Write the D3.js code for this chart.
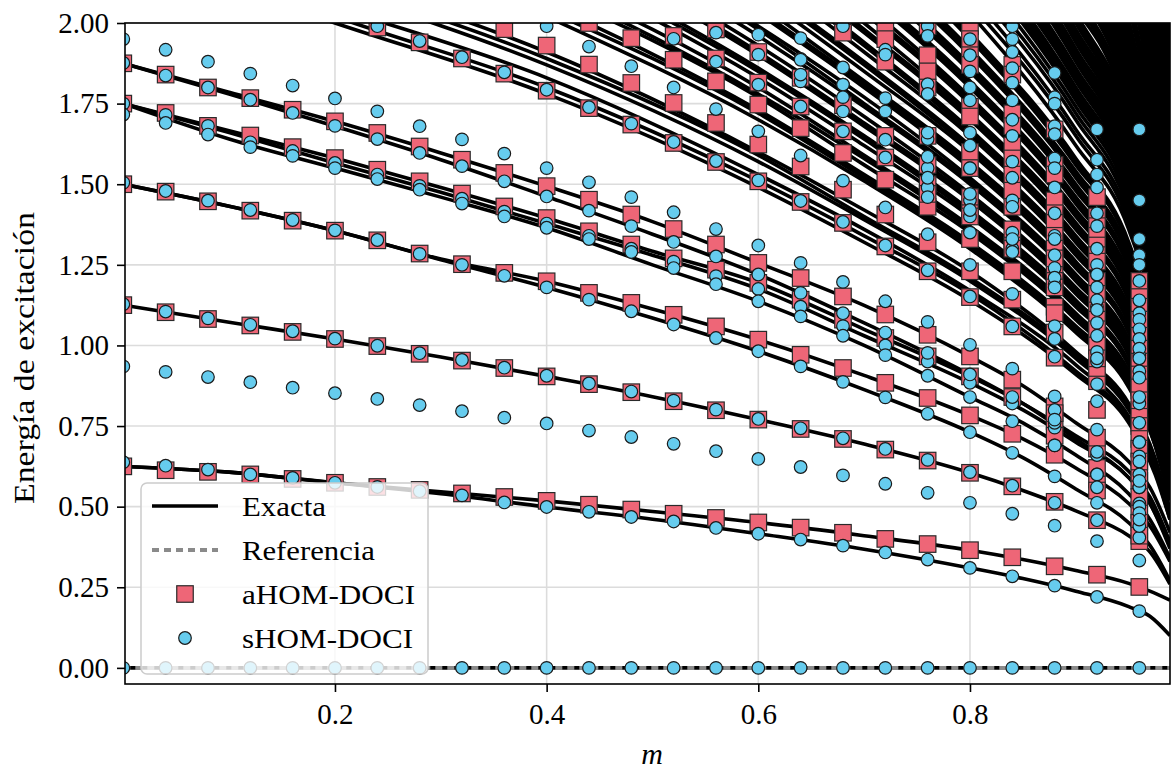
<!DOCTYPE html>
<html>
<head>
<meta charset="utf-8">
<script src="https://cdn.jsdelivr.net/npm/d3@7"></script>
<style>
body { margin: 0; background: #fff; }
svg text { font-family: "Liberation Serif", "DejaVu Serif", serif; fill: #000; }
</style>
</head>
<body>
<script>
// ---- exact curves, lower levels (m grid shared)
var mGrid = [0, 0.1, 0.2, 0.3, 0.4, 0.5, 0.6, 0.7, 0.8, 0.85, 0.9, 0.95, 0.97, 0.989];
var exactZero = [0, 0, 0, 0, 0, 0, 0, 0, 0, 0, 0, 0, 0, 0];
var exactA1 = [0.625, 0.607, 0.574, 0.546, 0.518, 0.485, 0.451, 0.41, 0.365, 0.336, 0.302, 0.262, 0.238, 0.21];
var exactA2 = [0.625, 0.607, 0.574, 0.54, 0.499, 0.461, 0.416, 0.368, 0.31, 0.277, 0.238, 0.19, 0.16, 0.1];
var exactB = [1.125, 1.072, 1.02, 0.964, 0.904, 0.841, 0.77, 0.694, 0.605, 0.55, 0.487, 0.41, 0.36, 0.26];
var exactC1 = [1.5, 1.432, 1.356, 1.268, 1.199, 1.113, 1.018, 0.907, 0.783, 0.71, 0.62, 0.51, 0.44, 0.33];
var exactC2 = [1.5, 1.432, 1.356, 1.266, 1.18, 1.085, 0.982, 0.863, 0.731, 0.652, 0.555, 0.45, 0.38, 0.27];
var exactL4a = [1.75, 1.666, 1.581, 1.49, 1.395, 1.292, 1.194, 1.05, 0.904, 0.82, 0.72, 0.61, 0.53, 0.39];
var exactL4b = [1.75, 1.66, 1.566, 1.475, 1.378, 1.28, 1.175, 1.03, 0.884, 0.8, 0.7, 0.59, 0.51, 0.37];
var exactL4c = [1.75, 1.64, 1.55, 1.46, 1.365, 1.25, 1.137, 1.0, 0.84, 0.76, 0.66, 0.54, 0.46, 0.34];
var exactL5a = [1.875, 1.785, 1.695, 1.597, 1.494, 1.384, 1.256, 1.124, 0.966, 0.875, 0.76, 0.64, 0.56, 0.42];
var exactL5b = [1.875, 1.78, 1.68, 1.576, 1.462, 1.345, 1.22, 1.07, 0.91, 0.82, 0.71, 0.59, 0.51, 0.38];

// ---- exact curves entering from the top (bundles of three)
var mUpper = [0.1, 0.2, 0.4, 0.6, 0.7, 0.8, 0.9, 0.95, 0.975, 0.989];
var upperCurves = [
    [2.11, 2.00, 1.78, 1.49, 1.32, 1.14, 0.91, 0.76, 0.60, 0.46],
    [2.14, 2.02, 1.80, 1.51, 1.34, 1.16, 0.92, 0.77, 0.61, 0.46],
    [2.16, 2.05, 1.83, 1.53, 1.36, 1.17, 0.94, 0.78, 0.62, 0.47],
    [null, 2.10, 1.87, 1.57, 1.39, 1.20, 0.96, 0.80, 0.64, 0.48],
    [null, 2.12, 1.89, 1.59, 1.40, 1.21, 0.97, 0.81, 0.64, 0.48],
    [null, 2.14, 1.91, 1.60, 1.42, 1.23, 0.98, 0.82, 0.65, 0.49],
    [null, null, 2.02, 1.70, 1.51, 1.30, 1.04, 0.87, 0.69, 0.52],
    [null, null, 2.04, 1.72, 1.52, 1.31, 1.05, 0.88, 0.69, 0.52],
    [null, null, 2.06, 1.73, 1.53, 1.32, 1.06, 0.89, 0.70, 0.53],
    [null, null, 2.10, 1.77, 1.56, 1.35, 1.08, 0.90, 0.71, 0.54],
    [null, null, 2.12, 1.78, 1.58, 1.36, 1.09, 0.91, 0.72, 0.54],
    [null, null, 2.14, 1.80, 1.59, 1.37, 1.10, 0.92, 0.73, 0.55],
    [null, null, 2.18, 1.83, 1.62, 1.40, 1.12, 0.94, 0.74, 0.56],
    [null, null, 2.20, 1.85, 1.64, 1.41, 1.13, 0.94, 0.75, 0.56],
    [null, null, 2.22, 1.86, 1.65, 1.42, 1.14, 0.95, 0.75, 0.57],
    [null, null, 2.26, 1.90, 1.68, 1.45, 1.16, 0.97, 0.77, 0.58],
    [null, null, 2.28, 1.91, 1.69, 1.46, 1.17, 0.98, 0.77, 0.58],
    [null, null, 2.30, 1.93, 1.71, 1.47, 1.18, 0.99, 0.78, 0.59],
    [null, null, 2.34, 1.96, 1.74, 1.50, 1.20, 1.00, 0.79, 0.60],
    [null, null, 2.36, 1.98, 1.75, 1.51, 1.21, 1.01, 0.80, 0.60],
    [null, null, 2.37, 1.99, 1.77, 1.52, 1.22, 1.02, 0.81, 0.61],
    [null, null, null, 2.03, 1.80, 1.55, 1.24, 1.04, 0.82, 0.62],
    [null, null, null, 2.04, 1.81, 1.56, 1.25, 1.05, 0.83, 0.62],
    [null, null, null, 2.06, 1.82, 1.57, 1.26, 1.05, 0.83, 0.63],
    [null, null, null, 2.09, 1.85, 1.60, 1.28, 1.07, 0.85, 0.64],
    [null, null, null, 2.11, 1.87, 1.61, 1.29, 1.08, 0.85, 0.64],
    [null, null, null, 2.12, 1.88, 1.62, 1.30, 1.09, 0.86, 0.65],
    [null, null, null, 2.16, 1.91, 1.65, 1.32, 1.10, 0.87, 0.66],
    [null, null, null, 2.17, 1.93, 1.66, 1.33, 1.11, 0.88, 0.66],
    [null, null, null, 2.19, 1.94, 1.67, 1.34, 1.12, 0.89, 0.67],
    [null, null, null, 2.22, 1.97, 1.70, 1.36, 1.14, 0.90, 0.68],
    [null, null, null, 2.24, 1.98, 1.71, 1.37, 1.15, 0.91, 0.68],
    [null, null, null, 2.26, 2.00, 1.72, 1.38, 1.15, 0.91, 0.69],
    [null, null, null, null, 2.03, 1.75, 1.40, 1.17, 0.93, 0.70],
    [null, null, null, null, 2.04, 1.76, 1.41, 1.18, 0.93, 0.70],
    [null, null, null, null, 2.06, 1.77, 1.42, 1.19, 0.94, 0.71],
    [null, null, null, null, 2.09, 1.80, 1.44, 1.20, 0.95, 0.72],
    [null, null, null, null, 2.10, 1.81, 1.45, 1.21, 0.96, 0.72],
    [null, null, null, null, 2.11, 1.82, 1.46, 1.22, 0.97, 0.73],
    [null, null, null, null, 2.14, 1.85, 1.48, 1.24, 0.98, 0.74],
    [null, null, null, null, 2.16, 1.86, 1.49, 1.25, 0.99, 0.74],
    [null, null, null, null, 2.17, 1.87, 1.50, 1.25, 0.99, 0.75],
    [null, null, null, null, 2.20, 1.90, 1.52, 1.27, 1.01, 0.76],
    [null, null, null, null, 2.22, 1.91, 1.53, 1.28, 1.01, 0.76],
    [null, null, null, null, 2.23, 1.92, 1.54, 1.29, 1.02, 0.77],
    [null, null, null, null, 2.26, 1.95, 1.56, 1.31, 1.03, 0.78],
    [null, null, null, null, 2.27, 1.96, 1.57, 1.31, 1.04, 0.78],
    [null, null, null, null, 2.29, 1.97, 1.58, 1.32, 1.05, 0.79]
];

// ---- the dense bundle at the top right
var mDense = [0.8, 0.9, 0.95, 0.975, 0.989];
var denseCurves = [
    [2.03, 1.62, 1.36, 1.08, 0.81], [2.06, 1.65, 1.38, 1.09, 0.82],
    [2.09, 1.67, 1.40, 1.11, 0.84], [2.12, 1.70, 1.42, 1.12, 0.85],
    [2.15, 1.72, 1.44, 1.14, 0.86], [2.18, 1.74, 1.46, 1.16, 0.87],
    [2.20, 1.76, 1.47, 1.16, 0.88],
    [2.21, 1.77, 1.48, 1.17, 0.88], [2.23, 1.78, 1.49, 1.18, 0.89],
    [2.24, 1.79, 1.50, 1.19, 0.90], [2.26, 1.80, 1.51, 1.20, 0.90],
    [2.27, 1.82, 1.52, 1.20, 0.91], [2.29, 1.83, 1.53, 1.21, 0.91],
    [2.30, 1.84, 1.54, 1.22, 0.92], [2.32, 1.85, 1.55, 1.23, 0.93],
    [2.33, 1.86, 1.56, 1.23, 0.93], [2.35, 1.88, 1.57, 1.24, 0.94],
    [2.36, 1.89, 1.58, 1.25, 0.94], [2.38, 1.90, 1.59, 1.26, 0.95],
    [2.39, 1.91, 1.60, 1.27, 0.96], [2.41, 1.92, 1.61, 1.27, 0.96],
    [2.42, 1.94, 1.62, 1.28, 0.97], [2.44, 1.95, 1.63, 1.29, 0.97],
    [2.45, 1.96, 1.64, 1.30, 0.98], [2.47, 1.97, 1.65, 1.31, 0.99],
    [2.48, 1.98, 1.66, 1.31, 0.99], [2.50, 2.00, 1.67, 1.32, 1.00],
    [2.51, 2.01, 1.68, 1.33, 1.00], [2.53, 2.02, 1.69, 1.34, 1.01],
    [2.54, 2.03, 1.70, 1.35, 1.02], [null, 2.04, 1.71, 1.35, 1.02],
    [null, 2.06, 1.72, 1.36, 1.03], [null, 2.07, 1.73, 1.37, 1.03],
    [null, 2.08, 1.74, 1.38, 1.04], [null, 2.10, 1.76, 1.39, 1.05],
    [null, 2.11, 1.77, 1.40, 1.06], [null, 2.13, 1.78, 1.41, 1.06],
    [null, 2.14, 1.80, 1.42, 1.07], [null, 2.16, 1.81, 1.43, 1.08],
    [null, 2.18, 1.82, 1.44, 1.09], [null, 2.19, 1.84, 1.45, 1.10],
    [null, 2.21, 1.85, 1.46, 1.10], [null, 2.22, 1.86, 1.47, 1.11],
    [null, 2.24, 1.88, 1.48, 1.12], [null, 2.26, 1.89, 1.49, 1.13],
    [null, 2.27, 1.90, 1.51, 1.14], [null, 2.29, 1.92, 1.52, 1.14],
    [null, 2.30, 1.93, 1.53, 1.15], [null, 2.32, 1.94, 1.54, 1.16],
    [null, 2.34, 1.96, 1.55, 1.17], [null, 2.35, 1.97, 1.56, 1.18],
    [null, 2.37, 1.98, 1.57, 1.18], [null, 2.38, 2.00, 1.58, 1.19],
    [null, 2.40, 2.01, 1.59, 1.20], [null, null, 2.05, 1.62, 1.22],
    [null, null, 2.09, 1.65, 1.25], [null, null, 2.13, 1.69, 1.27],
    [null, null, 2.17, 1.72, 1.30], [null, null, 2.21, 1.75, 1.32],
    [null, null, 2.25, 1.78, 1.34], [null, null, 2.29, 1.81, 1.37],
    [null, null, 2.33, 1.84, 1.39], [null, null, 2.37, 1.88, 1.42],
    [null, null, 2.41, 1.91, 1.44], [null, null, 2.45, 1.94, 1.46],
    [null, null, 2.49, 1.97, 1.49], [null, null, 2.53, 2.00, 1.51],
    [null, null, null, 2.04, 1.54], [null, null, null, 2.07, 1.56],
    [null, null, null, 2.10, 1.58], [null, null, null, 2.13, 1.61],
    [null, null, null, 2.16, 1.63], [null, null, null, 2.19, 1.66],
    [null, null, null, 2.23, 1.68], [null, null, null, 2.26, 1.70],
    [null, null, null, 2.29, 1.73], [null, null, null, 2.32, 1.75],
    [null, null, null, 2.35, 1.78], [null, null, null, 2.39, 1.80],
    [null, null, null, 2.42, 1.82], [null, null, null, 2.45, 1.85],
    [null, null, null, 2.48, 1.87], [null, null, null, 2.51, 1.90],
    [null, null, null, 2.54, 1.92], [null, null, null, 2.58, 1.94],
    [null, null, null, 2.61, 1.97], [null, null, null, 2.64, 1.99]
];

// ---- HOM-DOCI points, sampled every 0.04 in m
var mMarks = [0, 0.04, 0.08, 0.12, 0.16, 0.2, 0.24, 0.28, 0.32, 0.36, 0.4, 0.44, 0.48, 0.52, 0.56, 0.6, 0.64, 0.68, 0.72, 0.76, 0.8, 0.84, 0.88, 0.92, 0.96];

var aA1 = [0.625, 0.613, 0.608, 0.6, 0.586, 0.574, 0.561, 0.552, 0.541, 0.53, 0.518, 0.506, 0.491, 0.478, 0.465, 0.451, 0.435, 0.419, 0.40, 0.384, 0.365, 0.343, 0.315, 0.289, 0.251];
var aB = [1.125, 1.103, 1.082, 1.062, 1.042, 1.02, 0.998, 0.974, 0.953, 0.93, 0.904, 0.88, 0.855, 0.827, 0.799, 0.77, 0.741, 0.71, 0.677, 0.643, 0.605, 0.563, 0.515, 0.458, 0.393];
var aC1 = [1.5, 1.477, 1.447, 1.418, 1.387, 1.356, 1.326, 1.285, 1.252, 1.225, 1.199, 1.163, 1.132, 1.095, 1.059, 1.018, 0.971, 0.93, 0.884, 0.837, 0.783, 0.726, 0.661, 0.584, 0.49];
var aL4 = [1.75, 1.721, 1.681, 1.651, 1.615, 1.581, 1.545, 1.509, 1.471, 1.431, 1.395, 1.354, 1.313, 1.27, 1.235, 1.194, 1.142, 1.08, 1.023, 0.966, 0.904, 0.84, 0.765, 0.68, 0.58];
var aL5 = [1.875, 1.84, 1.80, 1.767, 1.731, 1.695, 1.659, 1.617, 1.576, 1.535, 1.494, 1.452, 1.406, 1.361, 1.313, 1.256, 1.209, 1.152, 1.096, 1.033, 0.966, 0.894, 0.811, 0.714, 0.605];
var aD1 = [null, null, null, null, null, null, 1.986, 1.94, 1.89, 1.843, 1.79, 1.736, 1.685, 1.628, 1.569, 1.509, 1.445, 1.38, 1.307, 1.23, 1.15, 1.059, 0.962, 0.889, 0.76];
var aE1 = [null, null, null, null, null, null, null, null, null, 1.981, 1.93, 1.871, 1.814, 1.752, 1.69, 1.623, 1.555, 1.483, 1.406, 1.32, 1.23, 1.142, 1.04, 0.93, 0.8];
var aE2 = [null, null, null, null, null, null, null, null, null, null, null, 2.0, 1.953, 1.886, 1.819, 1.747, 1.674, 1.597, 1.514, 1.43, 1.33, 1.23, 1.12, 1.0, 0.86];
var aF1 = [null, null, null, null, null, null, null, null, null, null, null, null, null, null, 1.98, 1.91, 1.83, 1.745, 1.65, 1.56, 1.46, 1.36, 1.25, 1.13, 0.98];
var aF2 = [null, null, null, null, null, null, null, null, null, null, null, null, null, 1.96, 1.89, 1.815, 1.741, 1.664, 1.583, 1.5, 1.41, 1.31, 1.2, 1.08, 0.93];

var sZero = [0, 0, 0, 0, 0, 0, 0, 0, 0, 0, 0, 0, 0, 0, 0, 0, 0, 0, 0, 0, 0, 0, 0, 0, 0];
var sA2 = [0.638, 0.627, 0.615, 0.6, 0.589, 0.574, 0.561, 0.548, 0.535, 0.513, 0.499, 0.484, 0.468, 0.454, 0.434, 0.416, 0.398, 0.379, 0.358, 0.336, 0.31, 0.284, 0.255, 0.22, 0.176];
var sB = [1.128, 1.105, 1.084, 1.064, 1.044, 1.021, 0.999, 0.976, 0.955, 0.931, 0.906, 0.882, 0.857, 0.829, 0.801, 0.772, 0.743, 0.712, 0.679, 0.645, 0.607, 0.565, 0.512, 0.458, 0.404];
var sX1 = [0.935, 0.918, 0.902, 0.886, 0.869, 0.852, 0.834, 0.815, 0.796, 0.776, 0.758, 0.736, 0.716, 0.695, 0.672, 0.648, 0.623, 0.597, 0.571, 0.543, 0.512, 0.478, 0.441, 0.393, 0.333];
var sC2 = [1.505, 1.479, 1.449, 1.42, 1.389, 1.357, 1.327, 1.284, 1.25, 1.216, 1.18, 1.142, 1.106, 1.065, 1.023, 0.982, 0.935, 0.887, 0.839, 0.788, 0.731, 0.667, 0.594, 0.512, 0.44];
var sL4a = [1.75, 1.715, 1.681, 1.63, 1.603, 1.566, 1.53, 1.495, 1.455, 1.415, 1.378, 1.34, 1.30, 1.26, 1.215, 1.175, 1.12, 1.06, 1.0, 0.95, 0.884, 0.82, 0.745, 0.66, 0.56];
var sL4b = [1.716, 1.69, 1.654, 1.615, 1.588, 1.55, 1.516, 1.483, 1.44, 1.40, 1.365, 1.33, 1.29, 1.24, 1.19, 1.137, 1.09, 1.03, 0.97, 0.906, 0.84, 0.765, 0.69, 0.6, 0.51];
var sL5 = [1.876, 1.837, 1.80, 1.762, 1.721, 1.681, 1.64, 1.597, 1.556, 1.509, 1.462, 1.418, 1.37, 1.321, 1.276, 1.22, 1.163, 1.1, 1.04, 0.977, 0.91, 0.84, 0.76, 0.67, 0.56];
var sX2 = [1.95, 1.917, 1.88, 1.843, 1.806, 1.766, 1.726, 1.68, 1.639, 1.595, 1.55, 1.506, 1.46, 1.413, 1.361, 1.31, 1.256, 1.197, 1.137, 1.073, 1.002, 0.928, 0.842, 0.739, 0.656];
var sD1 = [null, null, null, null, null, null, 1.99, 1.944, 1.894, 1.847, 1.793, 1.739, 1.688, 1.631, 1.572, 1.512, 1.448, 1.383, 1.31, 1.233, 1.152, 1.059, 0.965, 0.827, 0.7];
var sE1 = [null, null, null, null, null, null, null, null, null, null, 1.99, 1.927, 1.866, 1.80, 1.733, 1.664, 1.589, 1.511, 1.428, 1.345, 1.25, 1.16, 1.06, 0.95, 0.82];
var sF1 = [null, null, null, null, null, null, null, null, null, null, null, null, null, null, 1.97, 1.902, 1.819, 1.726, 1.638, 1.55, 1.45, 1.35, 1.24, 1.12, 0.97];
var sF2 = [null, null, null, null, null, null, null, null, null, null, null, null, null, 1.951, 1.88, 1.809, 1.741, 1.664, 1.583, 1.49, 1.4, 1.3, 1.19, 1.07, 0.92];
var sF3 = [null, null, null, null, null, null, null, null, null, null, null, null, null, null, null, 1.964, 1.889, 1.809, 1.726, 1.64, 1.55, 1.45, 1.34, 1.22, 1.1];

// crowded columns at large m, read as [m, energy]
var aExtra = [
    [0.68, 2.0], [0.68, 1.97], [0.72, 1.99], [0.72, 1.95], [0.72, 1.88],
    [0.76, 1.99], [0.76, 1.9], [0.76, 1.85], [0.76, 1.8], [0.76, 1.65], [0.76, 1.47],
    [0.8, 1.99], [0.8, 1.95], [0.8, 1.9], [0.8, 1.87], [0.8, 1.74], [0.8, 1.71], [0.8, 1.6], [0.8, 1.55], [0.8, 1.4],
    [0.84, 1.87], [0.84, 1.84], [0.84, 1.72], [0.84, 1.68], [0.84, 1.62], [0.84, 1.58], [0.84, 1.53], [0.84, 1.48], [0.84, 1.43], [0.84, 1.3],
    [0.88, 1.67], [0.88, 1.56], [0.88, 1.53], [0.88, 1.45], [0.88, 1.41], [0.88, 1.38], [0.88, 1.34], [0.88, 1.3], [0.88, 1.27], [0.88, 1.18], [0.88, 1.1], [0.88, 0.79], [0.88, 0.72],
    [0.92, 1.46], [0.92, 1.4], [0.92, 1.37], [0.92, 1.34], [0.92, 1.31], [0.92, 1.28], [0.92, 1.26], [0.92, 1.2], [0.92, 1.16], [0.92, 1.05], [0.92, 1.0], [0.92, 0.96], [0.92, 0.8], [0.92, 0.62], [0.92, 0.55],
    [0.96, 1.2], [0.96, 1.15], [0.96, 1.12], [0.96, 1.08], [0.96, 1.03], [0.96, 0.99], [0.96, 0.95], [0.96, 0.91], [0.96, 0.87], [0.96, 0.83], [0.96, 0.75], [0.96, 0.71], [0.96, 0.68], [0.96, 0.64], [0.96, 0.53], [0.96, 0.45], [0.96, 0.41]
];
var sExtra = [
    [0.64, 1.953], [0.64, 1.886], [0.64, 1.84],
    [0.68, 1.99], [0.68, 1.862], [0.68, 1.809], [0.68, 1.77],
    [0.72, 1.917], [0.72, 1.902], [0.72, 1.767],
    [0.76, 1.99], [0.76, 1.96], [0.76, 1.81], [0.76, 1.78], [0.76, 1.66], [0.76, 1.585], [0.76, 1.52], [0.76, 1.46],
    [0.8, 1.95], [0.8, 1.9], [0.8, 1.85], [0.8, 1.8], [0.8, 1.76], [0.8, 1.66], [0.8, 1.62], [0.8, 1.55], [0.8, 1.47], [0.8, 1.42], [0.8, 1.35],
    [0.84, 1.99], [0.84, 1.95], [0.84, 1.91], [0.84, 1.86], [0.84, 1.815], [0.84, 1.76], [0.84, 1.7], [0.84, 1.65], [0.84, 1.57], [0.84, 1.52], [0.84, 1.43], [0.84, 1.33], [0.84, 1.29],
    [0.88, 1.845], [0.88, 1.77], [0.88, 1.75], [0.88, 1.68], [0.88, 1.655], [0.88, 1.58], [0.88, 1.55], [0.88, 1.49], [0.88, 1.41], [0.88, 1.33], [0.88, 1.28], [0.88, 1.21], [0.88, 1.18], [0.88, 1.02], [0.88, 0.8], [0.88, 0.77], [0.88, 0.69],
    [0.92, 1.67], [0.92, 1.576], [0.92, 1.53], [0.92, 1.49], [0.92, 1.41], [0.92, 1.37], [0.92, 1.3], [0.92, 1.25], [0.92, 1.22], [0.92, 1.18], [0.92, 1.14], [0.92, 1.11], [0.92, 1.03], [0.92, 0.98], [0.92, 0.96], [0.92, 0.88], [0.92, 0.6], [0.92, 0.56],
    [0.96, 1.67], [0.96, 1.45], [0.96, 1.33], [0.96, 1.28], [0.96, 1.25], [0.96, 1.2], [0.96, 1.14], [0.96, 1.08], [0.96, 1.05], [0.96, 1.02], [0.96, 0.99], [0.96, 0.96], [0.96, 0.9], [0.96, 0.84], [0.96, 0.76], [0.96, 0.7], [0.96, 0.64], [0.96, 0.6], [0.96, 0.58], [0.96, 0.5], [0.96, 0.48], [0.96, 0.46]
];

var xTicks = [0.2, 0.4, 0.6, 0.8];
var yTicks = [0, 0.25, 0.5, 0.75, 1.0, 1.25, 1.5, 1.75, 2.0];
var legendLabels = ["Exacta", "Referencia", "aHOM-DOCI", "sHOM-DOCI"];
var legendWidths = [84, 133, 173, 171];

function init() {
    var w = 1171;
    var h = 769;
    var left = 125, right = 1170, top = 23, bottom = 684;

    var x = d3.scaleLinear().domain([0.0016, 0.989]).range([left, right]);
    var y = d3.scaleLinear().domain([-0.05, 2.0]).range([bottom, top]);

    var svg = d3.select("body")
        .append("svg")
        .attr("width", w)
        .attr("height", h);

    svg.append("clipPath").attr("id", "plotclip")
        .append("rect")
        .attr("x", left).attr("y", top)
        .attr("width", right - left).attr("height", bottom - top);

    // grid
    svg.append("g").selectAll("line").data(xTicks).enter().append("line")
        .attr("x1", function (d) { return x(d); }).attr("x2", function (d) { return x(d); })
        .attr("y1", top).attr("y2", bottom)
        .attr("stroke", "#dcdcdc").attr("stroke-width", 1.6);
    svg.append("g").selectAll("line").data(yTicks).enter().append("line")
        .attr("y1", function (d) { return y(d); }).attr("y2", function (d) { return y(d); })
        .attr("x1", left).attr("x2", right)
        .attr("stroke", "#dcdcdc").attr("stroke-width", 1.6);

    var plot = svg.append("g").attr("clip-path", "url(#plotclip)");

    var line = d3.line()
        .x(function (d) { return x(d[0]); })
        .y(function (d) { return y(d[1]); })
        .curve(d3.curveMonotoneX);

    function pairs(ms, vals) {
        return ms.map(function (m, i) { return [m, vals[i]]; })
            .filter(function (d) { return d[1] !== null; });
    }

    var lowerCurves = [exactA1, exactA2, exactB, exactC1, exactC2, exactL4a, exactL4b, exactL4c, exactL5a, exactL5b];
    var allLines = [pairs(mGrid, exactZero)];
    lowerCurves.forEach(function (c) { allLines.push(pairs(mGrid, c)); });
    upperCurves.forEach(function (c) { allLines.push(pairs(mUpper, c)); });
    denseCurves.forEach(function (c) { allLines.push(pairs(mDense, c)); });

    plot.append("g").selectAll("path")
        .data(allLines)
        .enter()
        .append("path")
        .attr("d", line)
        .attr("fill", "none")
        .attr("stroke", "black")
        .attr("stroke-width", 3.6);

    // Referencia: dotted grey line on zero
    plot.append("path")
        .attr("d", line(pairs(mGrid, exactZero)))
        .attr("fill", "none")
        .attr("stroke", "#8a8a8a")
        .attr("stroke-width", 4)
        .attr("stroke-dasharray", "7,5");

    // aHOM squares
    var aSeries = [aA1, aB, aC1, aL4, aL5, aD1, aE1, aE2, aF1, aF2];
    var aPts = [];
    aSeries.forEach(function (s) { aPts = aPts.concat(pairs(mMarks, s)); });
    aPts = aPts.concat(aExtra);
    var sq = 16.5;
    plot.append("g").selectAll("rect")
        .data(aPts)
        .enter()
        .append("rect")
        .attr("x", function (d) { return x(d[0]) - sq / 2; })
        .attr("y", function (d) { return y(d[1]) - sq / 2; })
        .attr("width", sq).attr("height", sq)
        .attr("fill", "#ee6677")
        .attr("stroke", "#2a2a2a")
        .attr("stroke-width", 1.2);

    // sHOM circles
    var sSeries = [sZero, sA2, sB, sX1, sC2, sL4a, sL4b, sL5, sX2, sD1, sE1, sF1, sF2, sF3];
    var sPts = [];
    sSeries.forEach(function (s) { sPts = sPts.concat(pairs(mMarks, s)); });
    sPts = sPts.concat(sExtra);
    plot.append("g").selectAll("circle")
        .data(sPts)
        .enter()
        .append("circle")
        .attr("cx", function (d) { return x(d[0]); })
        .attr("cy", function (d) { return y(d[1]); })
        .attr("r", 6.3)
        .attr("fill", "#66ccee")
        .attr("stroke", "#1a1a1a")
        .attr("stroke-width", 1.2);

    // axes
    var xAxis = d3.axisBottom(x).tickValues(xTicks).tickSize(8).tickSizeOuter(0)
        .tickPadding(11).tickFormat(d3.format(".1f"));
    var yAxis = d3.axisLeft(y).tickValues(yTicks).tickSize(8).tickSizeOuter(0)
        .tickPadding(8).tickFormat(d3.format(".2f"));

    var gx = svg.append("g").attr("transform", "translate(0," + bottom + ")").call(xAxis);
    var gy = svg.append("g").attr("transform", "translate(" + left + ",0)").call(yAxis);
    [gx, gy].forEach(function (g) {
        g.select(".domain").remove();
        g.selectAll(".tick line").attr("stroke", "black").attr("stroke-width", 1.6);
        g.selectAll(".tick text").attr("font-size", 29).attr("font-family", "Liberation Serif");
    });

    svg.append("rect")
        .attr("x", left).attr("y", top)
        .attr("width", right - left).attr("height", bottom - top)
        .attr("fill", "none").attr("stroke", "black").attr("stroke-width", 1.6);

    svg.append("text")
        .attr("x", 652)
        .attr("y", 764)
        .attr("text-anchor", "middle")
        .attr("font-size", 30)
        .attr("font-style", "italic")
        .text("m");

    svg.append("text")
        .attr("transform", "translate(34,358) rotate(-90)")
        .attr("text-anchor", "middle")
        .attr("font-size", 30)
        .attr("textLength", 292)
        .attr("lengthAdjust", "spacingAndGlyphs")
        .text("Energía de excitación");

    // legend
    var lg = svg.append("g");
    lg.append("rect")
        .attr("x", 141).attr("y", 483)
        .attr("width", 287).attr("height", 191)
        .attr("rx", 6)
        .attr("fill", "white").attr("fill-opacity", 0.8)
        .attr("stroke", "#cccccc").attr("stroke-width", 1.5);

    var rows = [506, 550, 594, 638];
    lg.append("line").attr("x1", 152).attr("x2", 218).attr("y1", rows[0]).attr("y2", rows[0])
        .attr("stroke", "black").attr("stroke-width", 3.6);
    lg.append("line").attr("x1", 152).attr("x2", 218).attr("y1", rows[1]).attr("y2", rows[1])
        .attr("stroke", "#8a8a8a").attr("stroke-width", 4).attr("stroke-dasharray", "7,5");
    lg.append("rect").attr("x", 185 - sq / 2).attr("y", rows[2] - sq / 2)
        .attr("width", sq).attr("height", sq)
        .attr("fill", "#ee6677").attr("stroke", "#2a2a2a").attr("stroke-width", 1.2);
    lg.append("circle").attr("cx", 185).attr("cy", rows[3]).attr("r", 6.3)
        .attr("fill", "#66ccee").attr("stroke", "#1a1a1a").attr("stroke-width", 1.2);

    lg.selectAll("text.lab")
        .data(legendLabels)
        .enter()
        .append("text")
        .attr("class", "lab")
        .attr("x", 242)
        .attr("y", function (d, i) { return rows[i] + 10; })
        .attr("font-size", 28)
        .attr("textLength", function (d, i) { return legendWidths[i]; })
        .attr("lengthAdjust", "spacingAndGlyphs")
        .text(function (d) { return d; });
}

window.onload = init;
</script>
</body>
</html>
